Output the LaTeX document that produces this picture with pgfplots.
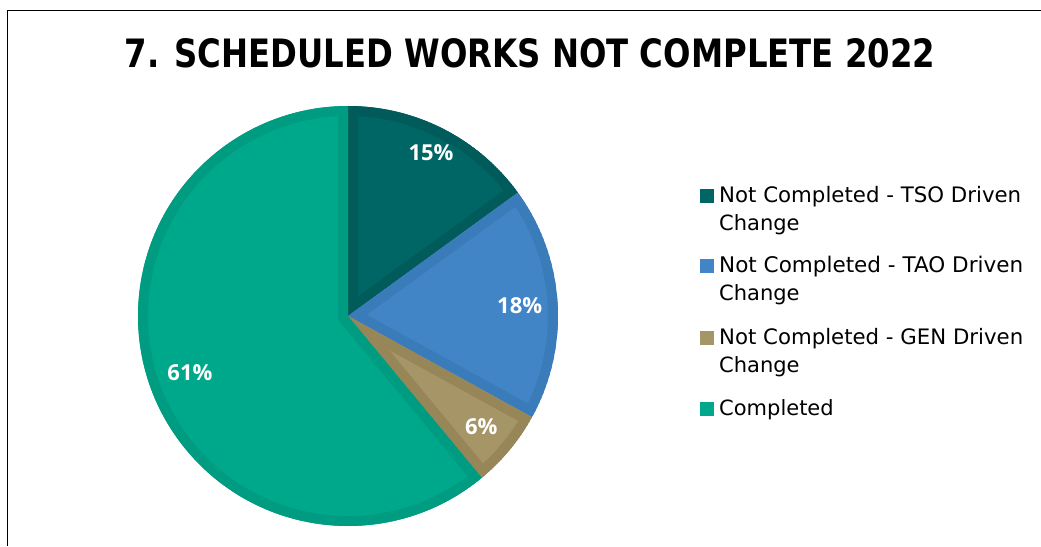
\documentclass[border=0pt]{standalone}
\usepackage{pgfplots}
\pgfplotsset{compat=1.18}
\usepackage{pgfplotstable}
\usepackage{fontspec}
\setmainfont{DejaVu Sans}
\newfontfamily\labelfont{Open Sans}

\definecolor{cTSO}{HTML}{006665}
\definecolor{bTSO}{HTML}{005B5A}
\definecolor{cTAO}{HTML}{4285C6}
\definecolor{bTAO}{HTML}{3A7BB9}
\definecolor{cGEN}{HTML}{A69667}
\definecolor{bGEN}{HTML}{978758}
\definecolor{cCOM}{HTML}{00A88B}
\definecolor{bCOM}{HTML}{009C81}

\pgfplotstableread{
name value
TSO 15
TAO 18
GEN 6
COM 61
}\piedata

\pgfplotstablegetelem{0}{value}\of\piedata \let\vA\pgfplotsretval
\pgfplotstablegetelem{1}{value}\of\piedata \let\vB\pgfplotsretval
\pgfplotstablegetelem{2}{value}\of\piedata \let\vC\pgfplotsretval
\pgfplotstablegetelem{3}{value}\of\piedata \let\vD\pgfplotsretval
\pgfmathsetmacro\aA{90}
\pgfmathsetmacro\aB{\aA-3.6*\vA}
\pgfmathsetmacro\aC{\aB-3.6*\vB}
\pgfmathsetmacro\aD{\aC-3.6*\vC}
\pgfmathsetmacro\aE{\aD-3.6*\vD}
\pgfmathsetmacro\mA{(\aA+\aB)/2}
\pgfmathsetmacro\mB{(\aB+\aC)/2}
\pgfmathsetmacro\mC{(\aC+\aD)/2}
\pgfmathsetmacro\mD{(\aD+\aE)/2}

\def\R{210pt}
\newcommand\pieslice[4]{%
  \begin{scope}
    \clip (O) -- ++(#1:\R) arc[start angle=#1, end angle=#2, radius=\R] -- cycle;
    \fill[#3, draw=#4, line width=20pt, line join=miter]
      (O) -- ++(#1:\R) arc[start angle=#1, end angle=#2, radius=\R] -- cycle;
  \end{scope}}
\newcommand\pielabel[3]{%
  \path (O) ++(#1:#2) node[text=white, font=\labelfont\bfseries\fontsize{22}{26}\selectfont] {#3};}

\begin{document}
\begin{tikzpicture}[x=1pt,y=1pt]
\useasboundingbox (0,0) rectangle (1041,546);
\draw[line width=1.5pt, black] (7.5,0) -- (7.5,535.5) -- (1041,535.5);
\node[anchor=base] at (530,478) {\resizebox{810pt}{29pt}{\bfseries 7. SCHEDULED WORKS NOT COMPLETE 2022}};

\begin{axis}[at={(348pt,230pt)}, anchor=center, scale only axis,
  width=420pt, height=420pt, xmin=-1, xmax=1, ymin=-1, ymax=1,
  hide axis, clip=false]
  \coordinate (O) at (axis cs:0,0);
  \pieslice{\aA}{\aB}{cTSO}{bTSO}
  \pieslice{\aB}{\aC}{cTAO}{bTAO}
  \pieslice{\aC}{\aD}{cGEN}{bGEN}
  \pieslice{\aD}{\aE}{cCOM}{bCOM}
  \pielabel{\mA}{183pt}{15\%}
  \pielabel{\mB}{172pt}{18\%}
  \pielabel{\mC}{173pt}{6\%}
  \pielabel{\mD}{168pt}{61\%}
\end{axis}

\begin{scope}[font=\fontsize{21}{25}\selectfont]
  \fill[cTSO] (700,343) rectangle ++(13.5,13.5);
  \node[anchor=base west, inner sep=0] at (719,343) {\resizebox{302pt}{!}{Not Completed - TSO Driven}};
  \node[anchor=base west, inner sep=0] at (719,315) {Change};
  \fill[cTAO] (700,273) rectangle ++(13.5,13.5);
  \node[anchor=base west, inner sep=0] at (719,273) {\resizebox{304pt}{!}{Not Completed - TAO Driven}};
  \node[anchor=base west, inner sep=0] at (719,245) {Change};
  \fill[cGEN] (700,201) rectangle ++(13.5,13.5);
  \node[anchor=base west, inner sep=0] at (719,201) {\resizebox{304pt}{!}{Not Completed - GEN Driven}};
  \node[anchor=base west, inner sep=0] at (719,173) {Change};
  \fill[cCOM] (700,130) rectangle ++(13.5,13.5);
  \node[anchor=base west, inner sep=0] at (719,130) {Completed};
\end{scope}
\end{tikzpicture}
\end{document}
